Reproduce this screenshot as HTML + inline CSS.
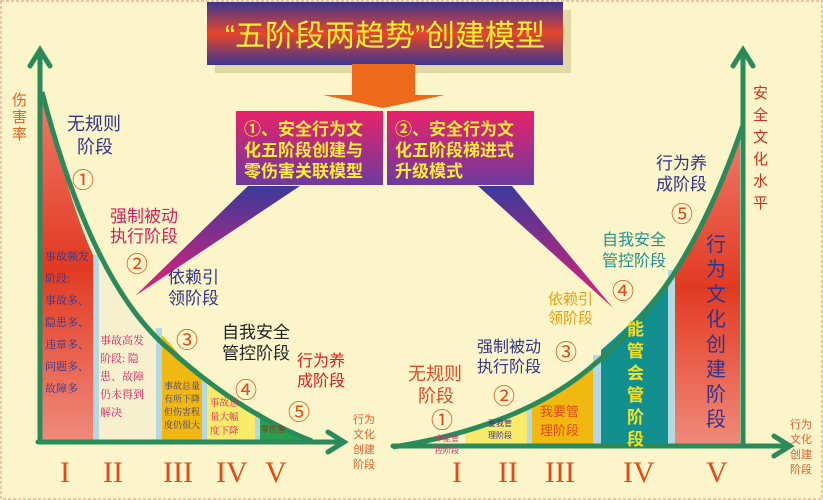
<!DOCTYPE html>
<html><head><meta charset="utf-8"><style>
body{margin:0;background:#fbf5c9;}
svg{display:block}
text{font-family:"Liberation Sans","Noto Sans CJK SC",sans-serif;}
.s text, text.s{font-family:"Liberation Serif","Noto Serif CJK SC",serif;}
</style></head><body>
<svg width="823" height="500" viewBox="0 0 823 500" xmlns="http://www.w3.org/2000/svg">
<defs>
<linearGradient id="tg" x1="0" y1="0" x2="0" y2="1"><stop offset="0" stop-color="#3b3590"/><stop offset="0.5" stop-color="#e8462a"/><stop offset="1" stop-color="#3b3590"/></linearGradient>
<linearGradient id="bg1" x1="0" y1="0" x2="0" y2="1"><stop offset="0" stop-color="#e8226a"/><stop offset="1" stop-color="#6d3aa0"/></linearGradient>
<linearGradient id="red" x1="0" y1="0" x2="0" y2="1"><stop offset="0" stop-color="#ef7a6a"/><stop offset="0.5" stop-color="#e23a22"/><stop offset="1" stop-color="#f08a7a"/></linearGradient>
<linearGradient id="beam" x1="0" y1="0" x2="0" y2="1"><stop offset="0" stop-color="#3b3a9a"/><stop offset="1" stop-color="#e0207a"/></linearGradient>
</defs>
<rect x="1" y="1" width="821" height="498" fill="none" stroke="#e0907a" stroke-dasharray="3,2"/>
<path d="M42,95 C60,160 75,215 93,255 L93,440 L42,440Z" fill="url(#red)"/>
<rect x="93" y="255" width="6" height="185" fill="#b6d8e0"/>
<path d="M99,262 C120,290 140,315 156,330 L156,440 L99,440Z" fill="#f7f0cf"/>
<rect x="156" y="328" width="6" height="112" fill="#b6d8e0"/>
<path d="M162,335 C178,352 190,368 202,378 L202,440 L162,440Z" fill="#f2b812"/>
<rect x="202" y="378" width="5" height="62" fill="#b6d8e0"/>
<path d="M207,382 C222,394 240,404 255,411 L255,440 L207,440Z" fill="#f8ea6a"/>
<rect x="255" y="411" width="5" height="29" fill="#b6d8e0"/>
<path d="M260,413 C275,422 290,430 310,440 L260,440Z" fill="#25a050"/>
<path d="M42,92 C70,200 110,300 170,350 C220,395 270,425 312,441" fill="none" stroke="#2a8a5a" stroke-width="5"/>
<path d="M40,442 L40,52 M30,66 L40,50 L50,66" fill="none" stroke="#2a8a5a" stroke-width="5" stroke-linecap="round"/>
<path d="M38,442 L342,442 M328,432 L344,442 L328,452" fill="none" stroke="#2a8a5a" stroke-width="5" stroke-linecap="round"/>
<path d="M465,432 C490,425 510,418 527,408 L527,445 L465,445Z" fill="#f8ea6a"/>
<rect x="527" y="405" width="5" height="40" fill="#b6d8e0"/>
<path d="M532,405 C555,395 575,380 593,362 L593,445 L532,445Z" fill="#f2b812"/>
<rect x="593" y="355" width="8" height="90" fill="#b6d8e0"/>
<path d="M601,350 C625,330 650,305 668,278 L668,445 L601,445Z" fill="#129090"/>
<rect x="668" y="270" width="7" height="175" fill="#b6d8e0"/>
<path d="M675,268 C700,235 725,180 740,130 L740,445 L675,445Z" fill="url(#red)"/>
<path d="M393,447 C470,435 540,410 590,368 C650,320 700,250 743,125" fill="none" stroke="#2a8a5a" stroke-width="5"/>
<path d="M743,446 L743,52 M733,66 L743,50 L753,66" fill="none" stroke="#2a8a5a" stroke-width="5" stroke-linecap="round"/>
<path d="M393,446 L788,446 M774,436 L790,446 L774,456" fill="none" stroke="#2a8a5a" stroke-width="5" stroke-linecap="round"/>
<polygon points="248,186 300,186 135,296" fill="url(#beam)"/>
<polygon points="478,186 512,186 613,308" fill="url(#beam)"/>
<rect x="215" y="10" width="356" height="63" fill="#cfc68a" opacity="0.6"/>
<rect x="207" y="2" width="356" height="63" fill="url(#tg)"/>
<text x="385" y="46" text-anchor="middle" font-size="30" fill="#ffee33">“五阶段两趋势”创建模型</text>
<rect x="352" y="64" width="63" height="36" fill="#ee6a1a"/>
<polygon points="323,95 445,95 383,108" fill="#ee6a1a"/>
<rect x="236" y="111" width="147" height="74" fill="url(#bg1)"/>
<rect x="387" y="111" width="147" height="74" fill="url(#bg1)"/>
<g font-size="17" fill="#ffee33" font-weight="bold">
<text x="244" y="135">①、安全行为文</text><text x="244" y="156">化五阶段创建与</text><text x="244" y="177">零伤害关联模型</text>
<text x="395" y="135">②、安全行为文</text><text x="395" y="156">化五阶段梯进式</text><text x="395" y="177">升级模式</text>
</g>
<g font-size="15" fill="#e06020"><text x="12" y="105">伤</text><text x="12" y="122">害</text><text x="12" y="139">率</text></g>
<g font-size="18" fill="#33338a"><text x="67" y="130">无规则</text><text x="77" y="153">阶段</text></g>
<g font-size="17" fill="#d62060"><text x="110" y="222">强制被动</text><text x="110" y="242">执行阶段</text></g>
<g font-size="17" fill="#33338a"><text x="168" y="283">依赖引</text><text x="168" y="304">领阶段</text></g>
<g font-size="17" fill="#222"><text x="222" y="338">自我安全</text><text x="222" y="359">管控阶段</text></g>
<g font-size="16" fill="#e02020"><text x="297" y="366">行为养</text><text x="297" y="386">成阶段</text></g>
<g font-size="22" fill="#e24a1a"><text x="72" y="188">①</text><text x="126" y="272">②</text><text x="176" y="348">③</text><text x="235" y="398">④</text><text x="288" y="420">⑤</text></g>
<g font-size="11" fill="#33338a" class="s"><text x="45" y="260">事故频发</text><text x="45" y="282">阶段:</text><text x="45" y="304">事故多、</text><text x="45" y="326">隐患多、</text><text x="45" y="348">违章多、</text><text x="45" y="370">问题多、</text><text x="45" y="392">故障多</text></g>
<g font-size="11" fill="#d62060" class="s"><text x="100" y="344">事故高发</text><text x="100" y="362">阶段: 隐</text><text x="100" y="380">患、故障</text><text x="100" y="398">仍未得到</text><text x="100" y="416">解决</text></g>
<g font-size="9" fill="#33338a" class="s"><text x="164" y="389">事故总量</text><text x="164" y="402">有所下降</text><text x="164" y="415">但伤害程</text><text x="164" y="428">度仍很大</text></g>
<g font-size="9.5" fill="#d62060" class="s"><text x="210" y="406">事故总</text><text x="210" y="420">量大幅</text><text x="210" y="434">度下降</text></g>
<text x="261" y="432" font-size="8" fill="#8a3a1a">零伤害</text>
<g font-size="11" fill="#e06030"><text x="353" y="423">行为</text><text x="353" y="438">文化</text><text x="353" y="453">创建</text><text x="353" y="468">阶段</text></g>
<g font-size="30" fill="#e24a1a" class="s"><text x="60" y="482">I</text><text x="103" y="482">II</text><text x="163" y="482">III</text><text x="216" y="482">IV</text><text x="265" y="482">V</text>
<text x="452" y="482">I</text><text x="498" y="482">II</text><text x="545" y="482">III</text><text x="623" y="482">IV</text><text x="706" y="482">V</text></g>
<g font-size="15" fill="#d03020"><text x="753" y="98">安</text><text x="753" y="120">全</text><text x="753" y="142">文</text><text x="753" y="164">化</text><text x="753" y="186">水</text><text x="753" y="208">平</text></g>
<g font-size="17" fill="#33338a"><text x="656" y="169">行为养</text><text x="656" y="190">成阶段</text></g>
<text x="671" y="222" font-size="22" fill="#e24a1a">⑤</text>
<g font-size="16" fill="#229090"><text x="602" y="245">自我安全</text><text x="602" y="266">管控阶段</text></g>
<text x="612" y="299" font-size="22" fill="#e24a1a">④</text>
<g font-size="15" fill="#e8a010"><text x="548" y="304">依赖引</text><text x="548" y="323">领阶段</text></g>
<g font-size="16" fill="#33338a"><text x="477" y="352">强制被动</text><text x="477" y="372">执行阶段</text></g>
<text x="555" y="360" font-size="22" fill="#e24a1a">③</text>
<g font-size="18" fill="#e04a2a"><text x="408" y="380">无规则</text><text x="418" y="402">阶段</text></g>
<text x="493" y="404" font-size="22" fill="#e24a1a">②</text>
<text x="431" y="428" font-size="22" fill="#e24a1a">①</text>
<g font-size="8" fill="#d03060"><text x="435" y="441">本能管</text><text x="435" y="453">控阶段</text></g>
<g font-size="8" fill="#33338a"><text x="488" y="426">要我管</text><text x="488" y="438">理阶段</text></g>
<g font-size="13" fill="#e04a1a"><text x="540" y="416">我要管</text><text x="540" y="435">理阶段</text></g>
<g font-size="17" fill="#f4e020" font-weight="bold"><text x="627" y="335">能</text><text x="627" y="357">管</text><text x="627" y="379">会</text><text x="627" y="401">管</text><text x="627" y="423">阶</text><text x="627" y="445">段</text></g>
<g font-size="20" fill="#33338a"><text x="706" y="251">行</text><text x="706" y="276">为</text><text x="706" y="301">文</text><text x="706" y="326">化</text><text x="706" y="351">创</text><text x="706" y="376">建</text><text x="706" y="401">阶</text><text x="706" y="426">段</text></g>
<g font-size="11" fill="#e06030"><text x="790" y="428">行为</text><text x="790" y="443">文化</text><text x="790" y="458">创建</text><text x="790" y="473">阶段</text></g>
</svg>
</body></html>
